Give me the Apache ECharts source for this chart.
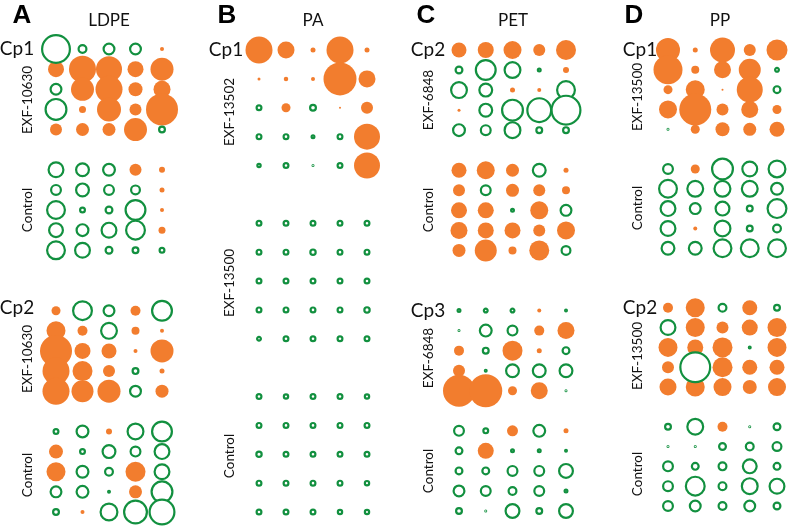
<!DOCTYPE html>
<html><head><meta charset="utf-8">
<script src="https://cdn.jsdelivr.net/npm/echarts@6/dist/echarts.min.js"></script>
<style>html,body{margin:0;padding:0;background:#fff}#c{width:790px;height:529px}</style>
</head><body><div id="c"></div>
<script>
// Signed values: positive = increase (orange, filled), negative = decrease (green, open)
const columns = ['1','2','3','4','5'];
const panelLetters = ['A','B','C','D'];
const panelTitles = ['LDPE','PA','PET','PP'];

const A_cp1 = [
 [-3.0,-1.0,-1.3,-1.3, 0.4],
 [ 1.6, 2.7, 2.6, 1.6, 2.3],
 [-1.3, 2.3, 2.7, 1.4, 1.7],
 [-2.3, 0.7, 2.4, 1.2, 3.2],
 [ 1.2, 1.3, 1.3, 2.3,-0.8]];
const A_cp1_ctrl = [
 [-1.7,-1.5,-1.4, 1.2, 0.6],
 [-1.2,-1.5,-1.2,-1.1, 0.5],
 [-2.0,-0.7,-0.9,-2.2, 0.4],
 [-1.6,-1.4,-1.7,-2.1, 0.7],
 [-2.0,-1.7,-0.9,-0.8,-0.7]];
const A_cp2 = [
 [ 0.9,-2.1,-1.3, 1.0,-2.2],
 [ 1.9, 1.0,-1.8, 0.8, 0.4],
 [ 3.2, 1.6, 1.5, 0.4, 2.3],
 [ 2.7, 2.0, 1.2,-0.8, 0.5],
 [ 2.7, 2.2, 2.3,-1.3, 1.3]];
const A_cp2_ctrl = [
 [-0.7,-1.4, 0.6,-1.8,-2.2],
 [ 1.4,-0.7,-1.5,-1.2,-1.7],
 [ 1.9,-1.4,-1.0, 2.0,-1.7],
 [-1.3,-1.4,-0.4, 1.3,-2.3],
 [-0.8, 0.4,-1.9,-2.5,-2.7]];

const B_13502 = [
 [ 2.7, 1.7, 0.5, 2.7, 0.5],
 [ 0.3, 0.45,0.4, 3.3, 1.7],
 [-0.7, 0.9,-0.8, 0.2, 1.2],
 [-0.7,-0.7,-0.5,-0.7, 2.6],
 [-0.55,-0.7,-0.3,-0.7, 2.6]];
const B_13500 = [
 [-0.7,-0.7,-0.7,-0.7,-0.7],
 [-0.7,-0.7,-0.75,-0.7,-0.7],
 [-0.7,-0.7,-0.7,-0.7,-0.7],
 [-0.7,-0.7,-0.7,-0.7,-0.75],
 [-0.6,-0.7,-0.7,-0.7,-0.7]];
const B_ctrl = [
 [-0.7,-0.65,-0.7,-0.7,-0.65],
 [-0.7,-0.7,-0.7,-0.7,-0.7],
 [-0.75,-0.7,-0.7,-0.7,-0.7],
 [-0.7,-0.7,-0.7,-0.7,-0.65],
 [-0.7,-0.7,-0.7,-0.65,-0.65]];

const C_cp2 = [
 [ 1.5, 1.6, 1.8, 1.2, 2.0],
 [-0.9,-2.2,-1.8,-0.5, 0.6],
 [-1.8,-1.5, 0.5, 0.4,-2.0],
 [ 0.3,-1.5,-2.3,-2.6,-3.1],
 [-1.4,-1.2,-1.8,-0.8,-0.8]];
const C_cp2_ctrl = [
 [ 1.5, 1.8, 1.3,-1.5, 0.5],
 [ 1.2,-1.2, 1.3, 1.2, 0.8],
 [ 1.6, 1.6,-0.5, 1.8,-1.3],
 [ 1.7, 1.6, 1.6, 1.2, 1.8],
 [ 1.3, 2.2, 0.8, 2.0,-1.1]];
const C_cp3 = [
 [-0.5,-0.6,-0.6, 0.4,-0.4],
 [-0.3,-1.4,-1.2, 1.0, 1.7],
 [ 1.0,-0.8, 2.0, 0.5,-0.9],
 [ 1.2,-0.4,-1.5,-1.5,-1.5],
 [ 3.2, 3.3, 0.9, 1.7,-0.2]];
const C_cp3_ctrl = [
 [-1.2,-0.7, 1.1,-1.4, 0.5],
 [-0.9, 1.6,-0.5,-0.5,-0.4],
 [-0.9,-0.9,-1.2,-1.2,-1.6],
 [-1.3,-1.2,-1.0,-1.2,-0.5],
 [-0.8,-0.3,-1.6,-0.8,-1.6]];

const D_cp1 = [
 [ 2.4, 0.5, 2.5, 1.2, 2.1],
 [ 2.9, 0.8, 1.7, 2.2,-0.6],
 [ 0.9, 1.9, 0.2, 2.6,-0.9],
 [ 1.8, 3.2, 1.2, 1.7, 0.9],
 [-0.2, 0.9, 1.4, 1.3, 1.5]];
const D_cp1_ctrl = [
 [-1.2, 0.9,-2.3,-1.7,-1.9],
 [-2.0,-1.8,-1.8,-1.8,-1.4],
 [-1.7,-1.3,-1.6,-0.8,-2.1],
 [-1.7, 0.4,-1.8,-0.8,-1.0],
 [-1.5,-1.5,-2.0,-2.0,-2.0]];
const D_cp2 = [
 [ 1.0, 1.9,-1.0, 1.5,-0.8],
 [-1.7, 1.9, 1.2, 1.6, 1.9],
 [ 1.9, 1.6, 2.0,-0.4, 1.9],
 [ 1.2,-3.2, 2.0, 1.5, 1.5],
 [ 1.7, 1.9, 1.8, 1.4, 1.8]];
const D_cp2_ctrl = [
 [-0.8,-1.8, 1.0,-0.2,-0.9],
 [-0.2,-0.2,-0.9,-1.0,-1.1],
 [-1.2,-0.9,-1.0,-1.6,-0.9],
 [-1.2,-2.1,-1.0,-1.8,-1.7],
 [-1.2,-1.3,-1.0,-1.3,-0.9]];

const panelBlocks = [
  [A_cp1, A_cp1_ctrl, A_cp2, A_cp2_ctrl],
  [B_13502, B_13500, B_ctrl],
  [C_cp2, C_cp2_ctrl, C_cp3, C_cp3_ctrl],
  [D_cp1, D_cp1_ctrl, D_cp2, D_cp2_ctrl]
];
const blockLabels = [
  ['EXF-10630','Control','EXF-10630','Control'],
  ['EXF-13502','EXF-13500','Control'],
  ['EXF-6848','Control','EXF-6848','Control'],
  ['EXF-13500','Control','EXF-13500','Control']
];
const compoundLabels = [
  ['Cp1', null, 'Cp2', null],
  ['Cp1', null, null],
  ['Cp2', null, 'Cp3', null],
  ['Cp1', null, 'Cp2', null]
];

// ---- layout (not data) ----
const ORANGE = '#F27D2E', GREEN = '#12903F';
const SCALE = 10;
const blockOffsets = [[0,6,13,19],[0,6,12],[0,6,13,19],[0,6,13,19]];
const rowMax = [23,16,23,23];
const grids = [
  {left:56, width:106, top:49, height:463},
  {left:259, width:108, top:50, height:462},
  {left:459, width:107, top:50, height:461},
  {left:668, width:109, top:50, height:456}
];
const letterX = [22,227,426,634];
const titleX = [109,313,513,720];
const cpX = [17,226,428,640];
const rotX = [28,230,429,638];
const rotY = [[100,210,359,475],[112,283,456],[100,210,358,471],[97,208,356,474]];
const cpY = [[49,null,308,null],[50,null,null],[50,null,311,null],[50,null,308,null]];

const option = {animation:false, grid:[], xAxis:[], yAxis:[], series:[], graphic:[]};
const FONT = 'Lato, "Open Sans", sans-serif';

panelBlocks.forEach((blocks, p) => {
  option.grid.push(Object.assign({containLabel:false}, grids[p]));
  option.xAxis.push({type:'value', gridIndex:p, min:0, max:columns.length-1, show:false});
  option.yAxis.push({type:'value', gridIndex:p, min:0, max:rowMax[p], inverse:true, show:false});
  const pos = [], neg = [];
  blocks.forEach((blk, b) => {
    blk.forEach((row, r) => {
      row.forEach((v, c) => {
        const pt = [c, blockOffsets[p][b] + r, v];
        (v >= 0 ? pos : neg).push(pt);
      });
    });
  });
  option.series.push({
    type:'scatter', xAxisIndex:p, yAxisIndex:p, clip:false, z:2,
    data:pos, symbol:'circle',
    symbolSize: d => Math.abs(d[2]) * SCALE,
    itemStyle:{color:ORANGE, opacity:1}
  });
  option.series.push({
    type:'scatter', xAxisIndex:p, yAxisIndex:p, clip:false, z:3,
    data:neg, symbol:'circle',
    symbolSize: d => Math.max(Math.abs(d[2]) * SCALE - 2.2, 0.8),
    itemStyle:{color:'#ffffff', borderColor:GREEN, borderWidth:2.2, opacity:1}
  });
  option.graphic.push({type:'text', left:null, x:letterX[p], y:16, z:10,
    style:{text:panelLetters[p], font:'bold 26px "Liberation Sans", Arial, sans-serif', fill:'#000', textAlign:'center', textVerticalAlign:'middle'}});
  option.graphic.push({type:'text', x:titleX[p], y:21, z:10,
    style:{text:panelTitles[p], font:'17px ' + FONT, fill:'#111', textAlign:'center', textVerticalAlign:'middle'}});
  blockLabels[p].forEach((lab, b) => {
    option.graphic.push({type:'text', x:rotX[p], y:rotY[p][b], rotation:Math.PI/2, z:10,
      style:{text:lab, font:'13.5px ' + FONT, fill:'#111', textAlign:'center', textVerticalAlign:'middle'}});
    const cp = compoundLabels[p][b];
    if (cp) option.graphic.push({type:'text', x:cpX[p], y:cpY[p][b], z:10,
      style:{text:cp, font:'19px ' + FONT, fill:'#111', textAlign:'center', textVerticalAlign:'middle'}});
  });
});

const chart = echarts.init(document.getElementById('c'), null, {renderer:'canvas'});
chart.setOption(option);
</script>
</body></html>
